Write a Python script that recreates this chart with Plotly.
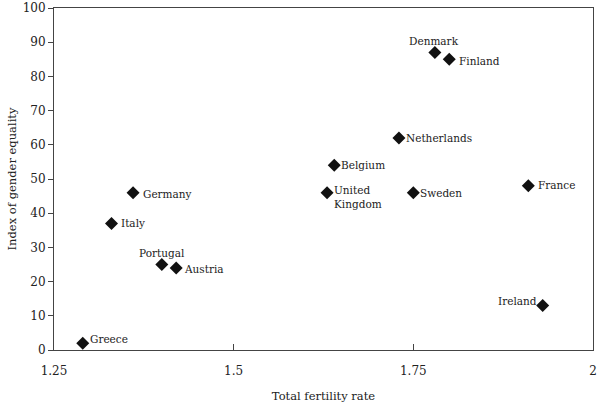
import plotly.graph_objects as go

countries = ["Greece", "Italy", "Germany", "Portugal", "Austria", "Belgium",
             "United<br>Kingdom", "Netherlands", "Sweden", "Denmark", "Finland",
             "France", "Ireland"]
fertility = [1.29, 1.33, 1.36, 1.40, 1.42, 1.64, 1.63, 1.73, 1.75, 1.78, 1.80, 1.91, 1.93]
equality = [2, 37, 46, 25, 24, 54, 46, 62, 46, 87, 85, 48, 13]
x_ticks = [1.25, 1.5, 1.75, 2]
x_tick_labels = ["1.25", "1.5", "1.75", "2"]
y_ticks = [0, 10, 20, 30, 40, 50, 60, 70, 80, 90, 100]

# label placement style per country: (xanchor, yanchor, xshift, yshift)
placement = {
    "Greece": ("left", "middle", 5, 4),
    "Italy": ("left", "middle", 8, 0),
    "Germany": ("left", "middle", 8, -1),
    "Portugal": ("center", "bottom", 0, 4),
    "Austria": ("left", "middle", 6, -1),
    "Belgium": ("left", "middle", 5, 0),
    "United<br>Kingdom": ("left", "top", 5, 11),
    "Netherlands": ("left", "middle", 5, 0),
    "Sweden": ("left", "middle", 5, 0),
    "Denmark": ("center", "bottom", -1, 3),
    "Finland": ("left", "middle", 8, -2),
    "France": ("left", "middle", 8, 1),
    "Ireland": ("right", "middle", -4, 5),
}

font_family = "DejaVu Serif"
text_color = "#222222"

fig = go.Figure()
fig.add_trace(go.Scatter(
    x=fertility, y=equality, mode="markers",
    marker=dict(symbol="diamond", size=10, color="#111111"),
    hoverinfo="skip", showlegend=False,
))

annotations = []
for c, xv, yv in zip(countries, fertility, equality):
    xa, ya, xs, ys = placement[c]
    annotations.append(dict(
        x=xv, y=yv, text=c, showarrow=False, xanchor=xa, yanchor=ya,
        xshift=xs, yshift=ys, align="left",
        font=dict(family=font_family, size=10.5, color=text_color),
    ))

fig.update_layout(
    width=600, height=407,
    margin=dict(l=54, r=7, t=8, b=57),
    plot_bgcolor="white", paper_bgcolor="white",
    font=dict(family=font_family, size=12, color=text_color),
    annotations=annotations,
    xaxis=dict(
        range=[1.25, 2], tickvals=x_ticks, ticktext=x_tick_labels,
        ticks="inside", ticklen=6, tickcolor="#444", automargin=False,
        showline=True, linecolor="#444", linewidth=1, mirror=True,
        showgrid=False, zeroline=False, ticklabelstandoff=10,
        title=dict(text="Total fertility rate", standoff=14,
                   font=dict(family=font_family, size=11.5, color=text_color)),
        tickfont=dict(family=font_family, size=12, color=text_color),
    ),
    yaxis=dict(
        range=[0, 100], tickvals=y_ticks, automargin=False,
        ticks="outside", ticklen=5, tickcolor="#444",
        showline=True, linecolor="#444", linewidth=1, mirror=True,
        showgrid=False, zeroline=False,
        title=dict(text="Index of gender equality", standoff=3,
                   font=dict(family=font_family, size=11.5, color=text_color)),
        tickfont=dict(family=font_family, size=12, color=text_color),
    ),
)

fig.write_html("out.html", config={"displayModeBar": False},
               post_script="document.body.style.margin='0';document.body.style.overflow='hidden';")
